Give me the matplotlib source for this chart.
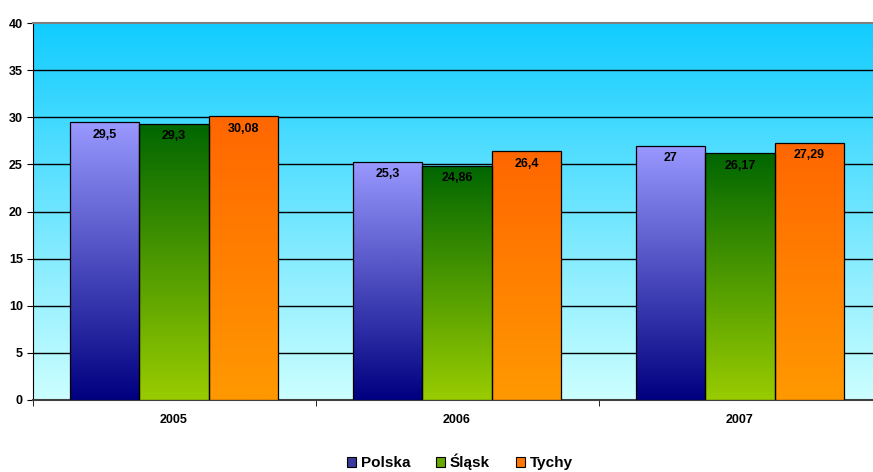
import matplotlib
matplotlib.use("Agg")
import matplotlib.pyplot as plt
import numpy as np
from matplotlib.colors import LinearSegmentedColormap
from matplotlib.patches import Patch

plt.rcParams['font.family'] = ['Liberation Sans', 'DejaVu Sans']

years = ["2005", "2006", "2007"]
series = ["Polska", "Śląsk", "Tychy"]
polska = [29.5, 25.3, 27.0]
slask = [29.3, 24.86, 26.17]
tychy = [30.08, 26.4, 27.29]
labels = [["29,5", "25,3", "27"], ["29,3", "24,86", "26,17"], ["30,08", "26,4", "27,29"]]
yticks = [0, 5, 10, 15, 20, 25, 30, 35, 40]

# (top colour, bottom colour)
grads = [("#9999FF", "#000080"), ("#006600", "#99CC00"), ("#FF6600", "#FF9900")]
legend_colors = ["#3a3a9a", "#66aa00", "#FF7700"]

W, H = 873, 472
fig = plt.figure(figsize=(W/100, H/100), dpi=100)
ax = fig.add_axes([32.5/W, 72/H, 849/W, (400-23)/H])
ax.set_xlim(0, 3)
ax.set_ylim(0, 40)

# background gradient
bg = LinearSegmentedColormap.from_list("bg", ["#CCFFFF", "#12CCFF"])
grad = np.linspace(0, 1, 256).reshape(-1, 1)
ax.imshow(grad, cmap=bg, origin="lower", extent=[0, 3, 0, 40], aspect="auto", zorder=0)

for y in yticks[1:-1]:
    ax.axhline(y, color="black", lw=1.0, zorder=1)

width = 0.2456
offset = (1 - 3 * width) / 2
data = [polska, slask, tychy]
for si, vals in enumerate(data):
    top, bot = grads[si]
    cmap = LinearSegmentedColormap.from_list(f"s{si}", [bot, top])
    for ci, v in enumerate(vals):
        x0 = ci + offset + si * width
        bars = ax.bar(x0, v, width=width, align="edge", facecolor="none",
                      edgecolor="black", lw=0.9, zorder=4)
        im = ax.imshow(grad, cmap=cmap, origin="lower", extent=[x0, x0 + width, 0, v],
                       aspect="auto", zorder=3)
        im.set_clip_path(bars[0])
        ax.text(x0 + width / 2, v - 0.7, labels[si][ci], ha="center", va="top",
                fontsize=9, fontweight="bold", zorder=5)

ax.set_xlim(0, 3)
ax.set_ylim(0, 40)
ax.set_xticks([0.5, 1.5, 2.5])
ax.set_xticklabels(years, fontsize=9, fontweight="bold")
ax.set_xticks([0, 1, 2, 3], minor=True)
ax.tick_params(axis="x", which="major", length=0, pad=10)
ax.tick_params(axis="x", which="minor", length=4, color="black")
ax.set_yticks(yticks)
ax.set_yticklabels([str(v) for v in yticks], fontsize=9, fontweight="bold")
ax.tick_params(axis="y", length=4, pad=3)

ax.spines["top"].set_color("#808080")
ax.spines["top"].set_linewidth(1.5)
ax.spines["right"].set_visible(False)
ax.spines["left"].set_color("black")
ax.spines["bottom"].set_color("#404040")
ax.spines["bottom"].set_linewidth(1.5)

handles = [Patch(facecolor=c, edgecolor="black", lw=0.8) for c in legend_colors]
leg = fig.legend(handles, series, loc="center", bbox_to_anchor=(460/W, (H - 462)/H),
                 ncol=3, frameon=False, prop={"weight": "bold", "size": 11},
                 handlelength=0.6, handleheight=0.6, handletextpad=0.3, columnspacing=1.7)

fig.savefig("out.png", dpi=100)
